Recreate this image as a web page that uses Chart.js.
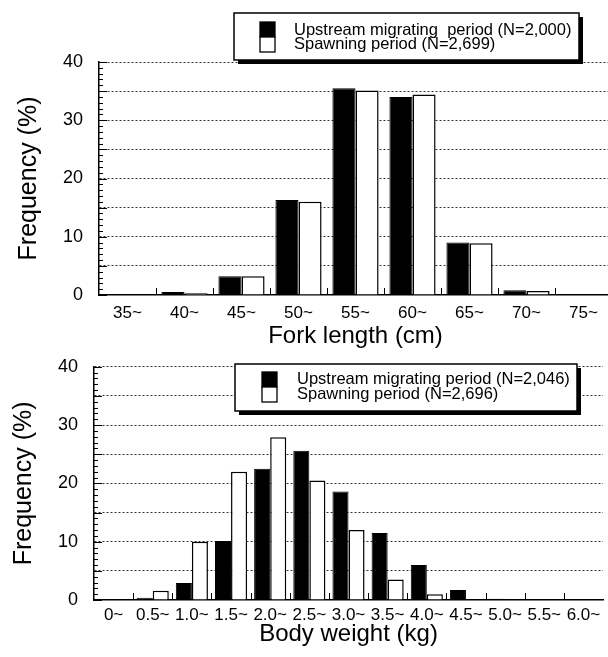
<!DOCTYPE html>
<html><head><meta charset="utf-8">
<script src="https://cdn.jsdelivr.net/npm/chart.js@4/dist/chart.umd.min.js"></script>
<style>
html,body{margin:0;padding:0;background:#fff;overflow:hidden;width:608px;height:657px;position:relative;}
canvas{position:absolute;left:0;}
#c1{top:0;}
#c2{top:340px;}
</style></head><body>
<canvas id="c1" width="620" height="355"></canvas>
<canvas id="c2" width="620" height="317"></canvas>
<script>
// ---- Data: fork length ----
const forkCategories = ['35~','40~','45~','50~','55~','60~','65~','70~','75~'];
const forkUpstream   = [0.1, 0.5, 3.2, 16.3, 35.5, 34.0, 9.0, 0.8, 0];
const forkSpawning   = [0.05, 0.3, 3.2, 16.0, 35.1, 34.4, 8.9, 0.7, 0];
const forkSeriesNames = ['Upstream migrating  period (N=2,000)', 'Spawning period (N=2,699)'];

// ---- Data: body weight ----
const weightCategories = ['0~','0.5~','1.0~','1.5~','2.0~','2.5~','3.0~','3.5~','4.0~','4.5~','5.0~','5.5~','6.0~'];
const weightUpstream   = [0, 0.4, 2.9, 10.1, 22.5, 25.6, 18.6, 11.5, 6.0, 1.7, 0.2, 0, 0];
const weightSpawning   = [0.1, 1.6, 10.0, 22.0, 27.9, 20.5, 12.0, 3.5, 1.0, 0, 0, 0, 0];
const weightSeriesNames = ['Upstream migrating period (N=2,046)', 'Spawning period (N=2,696)'];

const yTickValues = [0, 10, 20, 30, 40];
const yAxisTitle = 'Frequency (%)';
const forkAxisTitle = 'Fork length (cm)';
const weightAxisTitle = 'Body weight (kg)';

const FONT = '"Liberation Sans", Arial, Helvetica, sans-serif';

const boxLegend = {
  id: 'boxLegend',
  afterDatasetsDraw(chart, args, o) {
    const ctx = chart.ctx;
    ctx.save();
    ctx.fillStyle = '#000';
    ctx.fillRect(o.x + o.shadow, o.y + o.shadow, o.w, o.h);
    ctx.fillStyle = '#fff';
    ctx.fillRect(o.x, o.y, o.w, o.h);
    ctx.lineWidth = 1.5; ctx.strokeStyle = '#000';
    ctx.strokeRect(o.x, o.y, o.w, o.h);
    chart.data.datasets.forEach((ds, i) => {
      ctx.fillStyle = ds.backgroundColor;
      ctx.fillRect(o.sqX, o.sqY + i * o.sq, o.sq, o.sq);
      ctx.lineWidth = 1.3; ctx.strokeStyle = '#000';
      ctx.strokeRect(o.sqX, o.sqY + i * o.sq, o.sq, o.sq);
      ctx.fillStyle = '#000';
      ctx.font = o.font;
      ctx.textBaseline = 'alphabetic';
      ctx.textAlign = 'left';
      ctx.fillText(ds.label, o.textX, o.baseY + i * o.gap);
    });
    ctx.restore();
  }
};

const axisMarks = {
  id: 'axisMarks',
  beforeDatasetsDraw(chart) {
    const ctx = chart.ctx, xs = chart.scales.x, ys = chart.scales.y;
    const area = chart.chartArea;
    ctx.save();
    ctx.strokeStyle = '#000';
    ctx.lineWidth = 1;
    for (let v = ys.min; v <= ys.max; v += 1) {
      const py = Math.round(ys.getPixelForValue(v)) + 0.5;
      const len = (v % 5 === 0) ? 8 : 4;
      ctx.beginPath(); ctx.moveTo(area.left, py); ctx.lineTo(area.left + len, py); ctx.stroke();
    }
    const n = chart.data.labels.length;
    for (let i = 0; i < n - 1; i++) {
      const px = Math.round((xs.getPixelForValue(i) + xs.getPixelForValue(i + 1)) / 2) + 0.5;
      ctx.beginPath(); ctx.moveTo(px, area.bottom); ctx.lineTo(px, area.bottom - 7); ctx.stroke();
    }
    ctx.restore();
  }
};

function makeChart(id, cats, up, sp, names, xTitle, geo) {
  return new Chart(document.getElementById(id), {
    type: 'bar',
    data: {
      labels: cats,
      datasets: [
        { label: names[0], data: up, backgroundColor: '#000', borderColor: '#000', borderWidth: 1 },
        { label: names[1], data: sp, backgroundColor: '#fff', borderColor: '#000', borderWidth: 1.5 }
      ]
    },
    options: {
      responsive: false,
      animation: false,
      devicePixelRatio: 1,
      layout: { padding: { left: 0, top: geo.top, right: geo.right, bottom: 0 } },
      datasets: { bar: { categoryPercentage: geo.catPct, barPercentage: 1.0, borderSkipped: 'start' } },
      plugins: {
        legend: { display: false },
        tooltip: { enabled: false },
        boxLegend: geo.legend
      },
      scales: {
        x: {
          grid: { display: false, drawTicks: false },
          border: { display: true, color: '#000', width: 1.5 },
          ticks: { color: '#000', font: { family: FONT, size: 17 }, padding: geo.xPad, autoSkip: false, maxRotation: 0 },
          title: { display: true, text: xTitle, color: '#000', font: { family: FONT, size: 24 }, padding: { top: 0, bottom: geo.xTitlePad } },
          afterFit: s => { s.height = geo.xHeight; }
        },
        y: {
          min: 0, max: 40,
          afterBuildTicks: s => { s.ticks = [0,5,10,15,20,25,30,35,40].map(v => ({ value: v })); },
          grid: {
            drawTicks: false,
            lineWidth: 1,
            color: c => (c.tick && c.tick.value === 0) ? 'rgba(0,0,0,0)' : '#333'
          },
          border: { display: true, color: '#000', width: 1.5, dash: [2, 2] },
          ticks: {
            color: '#000', font: { family: FONT, size: 18 }, padding: 16,
            callback: v => yTickValues.includes(v) ? String(v) : ''
          },
          title: { display: true, text: yAxisTitle, color: '#000', font: { family: FONT, size: 25 }, padding: { top: geo.yTitlePad, bottom: 0 } },
          afterFit: s => { s.width = geo.yWidth; }
        }
      }
    },
    plugins: [axisMarks, boxLegend]
  });
}

makeChart('c1', forkCategories, forkUpstream, forkSpawning, forkSeriesNames, forkAxisTitle, {
  top: 62, right: 8, yWidth: 99, xHeight: 60, xPad: 8.5, xTitlePad: 4.5, yTitlePad: 14, catPct: 0.81,
  legend: { x: 234, y: 13, w: 345, h: 47, shadow: 4, sqX: 260, sqY: 22, sq: 15, textX: 294, baseY: 35, gap: 14,
            font: '16.5px ' + FONT }
});

makeChart('c2', weightCategories, weightUpstream, weightSpawning, weightSeriesNames, weightAxisTitle, {
  top: 25, right: 17, yWidth: 94, xHeight: 57, xPad: 5, xTitlePad: 8.5, yTitlePad: 9, catPct: 0.82,
  legend: { x: 235, y: 24, w: 342, h: 47, shadow: 4, sqX: 262, sqY: 32, sq: 15, textX: 297, baseY: 44, gap: 15,
            font: '16.5px ' + FONT }
});
</script>
</body></html>
